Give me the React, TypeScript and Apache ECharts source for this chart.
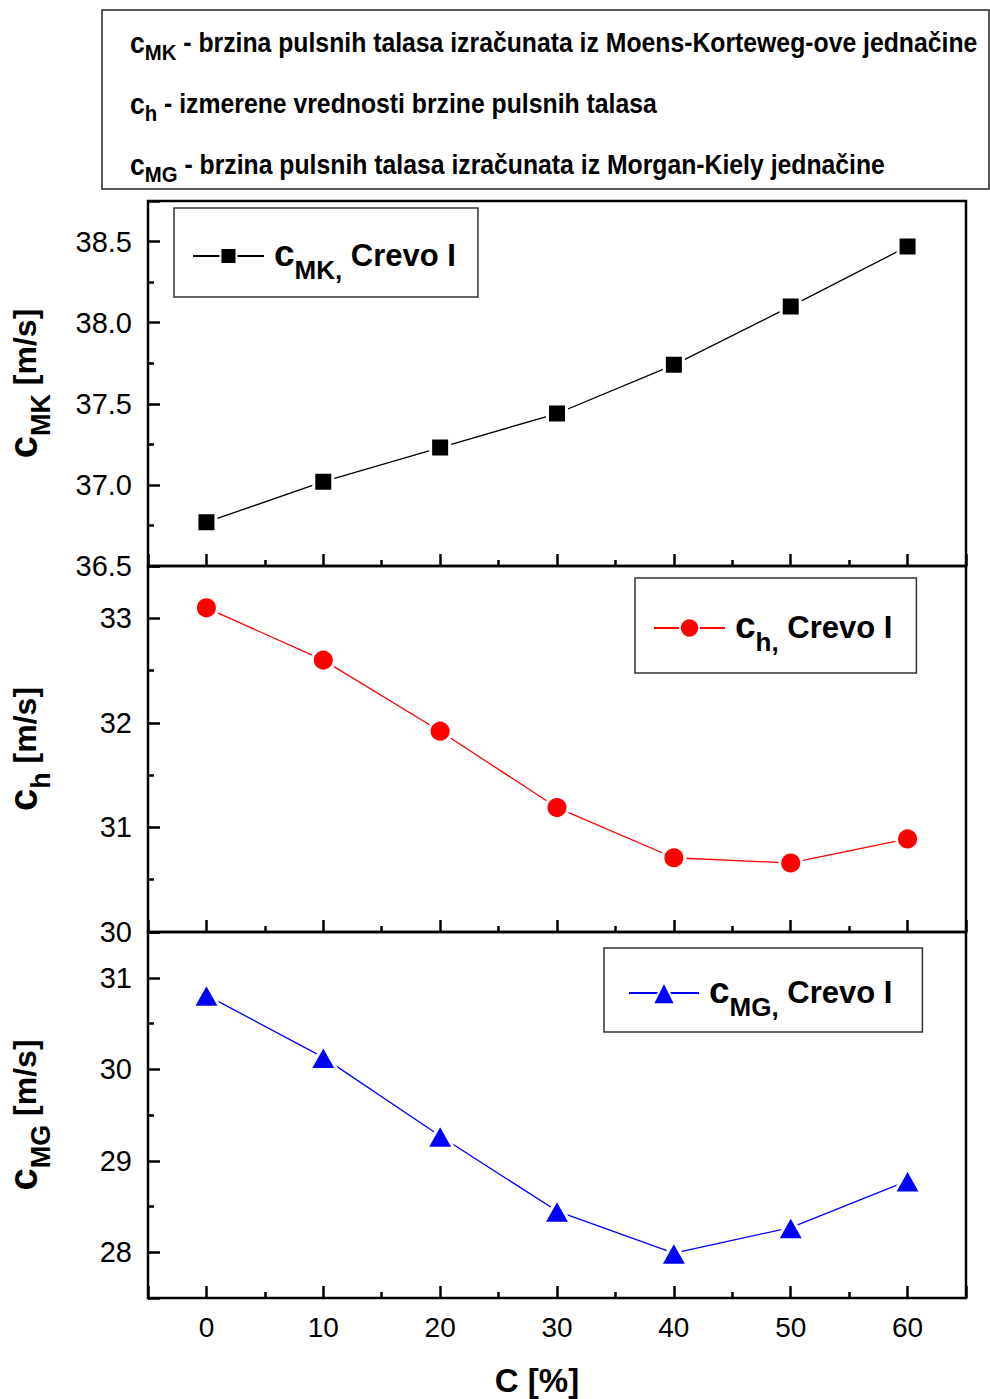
import React, { useEffect, useRef } from 'react';
import * as echarts from 'echarts';

// ---- data ----
const concentration = [0, 10, 20, 30, 40, 50, 60];
const cMKValues = [36.77, 37.02, 37.23, 37.44, 37.74, 38.1, 38.47];
const cHValues = [33.1, 32.6, 31.92, 31.19, 30.71, 30.66, 30.89];
const cMGValues = [30.81, 30.13, 29.27, 28.45, 27.99, 28.27, 28.78];

const seriesNames = ['cMK', 'ch', 'cMG'];
const seriesSubs = ['MK', 'h', 'MG'];
const legendSuffix = 'Crevo I';
const yUnit = '[m/s]';
const xTitle = 'C [%]';
const descriptionSubs = ['MK', 'h', 'MG'];
const descriptionTexts = [
  '- brzina pulsnih talasa izračunata iz Moens-Korteweg-ove jednačine',
  '- izmerene vrednosti brzine pulsnih talasa',
  '- brzina pulsnih talasa izračunata iz Morgan-Kiely jednačine',
];

const SANS = '"Liberation Sans", Arial, sans-serif';

const richSub = (mainSize: number, subSize: number, textSize: number, mainPad: number, subPad: number, textPad: number, leftPad = 0) => ({
  m: { fontFamily: SANS, fontWeight: 'bold', fontSize: mainSize, color: '#000', verticalAlign: 'top', padding: [mainPad, 0, 0, leftPad] },
  s: { fontFamily: SANS, fontWeight: 'bold', fontSize: subSize, color: '#000', verticalAlign: 'top', padding: [subPad, 0, 0, 0] },
  t: { fontFamily: SANS, fontWeight: 'bold', fontSize: textSize, color: '#000', verticalAlign: 'top', padding: [textPad, 0, 0, 0] },
});

export default function App() {
  const ref = useRef<HTMLDivElement>(null);
  useEffect(() => {
    if (!ref.current) return;
    const chart = echarts.init(ref.current, undefined, { renderer: 'svg' });

    const gridTops = [201, 566, 932];
    const gridHeights = [365, 366, 366];
    const grids = gridTops.map((t, i) => ({
      left: 148, top: t, width: 818, height: gridHeights[i],
      containLabel: false, outerBoundsMode: 'none',
      show: true, borderColor: '#000', borderWidth: 2.5, backgroundColor: 'transparent',
    }));

    const tickStyle = { color: '#000', width: 2.5 };
    const xAxes = [0, 1, 2].map((i) => ({
      type: 'value', gridIndex: i, min: -5, max: 65, minInterval: 10, maxInterval: 10, splitNumber: 7,
      axisLine: { show: false, onZero: false },
      axisTick: { show: true, inside: true, length: 12, lineStyle: tickStyle },
      minorTick: { show: true, splitNumber: 2, length: 6, lineStyle: tickStyle },
      splitLine: { show: false },
      axisLabel: { show: i === 2, showMinLabel: false, showMaxLabel: false, fontFamily: SANS, fontSize: 28, color: '#000', margin: 15 },
      name: i === 2 ? xTitle : '',
      nameLocation: 'middle', nameGap: 66,
      nameTextStyle: { fontFamily: SANS, fontWeight: 'bold', fontSize: 33, color: '#000', padding: [0, 40, 0, 0] },
    }));

    const yCommon = {
      type: 'value',
      axisLine: { show: false, onZero: false },
      axisTick: { show: true, inside: true, length: 12, lineStyle: tickStyle },
      minorTick: { show: true, splitNumber: 2, length: 6, lineStyle: tickStyle },
      splitLine: { show: false },
      nameLocation: 'middle', nameRotate: 90, nameGap: 94,
    };
    const yLabel = { fontFamily: SANS, fontSize: 29, color: '#000', margin: 16 };
    const yName = (i: number) => `{m|c}{s|${seriesSubs[i]}}{t| ${yUnit}}`;
    const yRich = richSub(40, 27, 32, 0, 24, 6);
    const yAxes = [
      { ...yCommon, gridIndex: 0, min: 36.5, max: 38.75, interval: 0.5,
        axisLabel: { ...yLabel, showMaxLabel: false, formatter: (v: number) => v.toFixed(1) },
        name: yName(0), nameTextStyle: { rich: yRich } },
      { ...yCommon, gridIndex: 1, min: 30, max: 33.5, interval: 1,
        axisLabel: { ...yLabel, showMaxLabel: false },
        name: yName(1), nameTextStyle: { rich: yRich } },
      { ...yCommon, gridIndex: 2, min: 27.5, max: 31.5, minInterval: 1, maxInterval: 1, splitNumber: 4,
        axisLabel: { ...yLabel, showMinLabel: false, showMaxLabel: false },
        name: yName(2), nameTextStyle: { rich: yRich } },
    ];

    const valuesList = [cMKValues, cHValues, cMGValues];
    const colors = ['#000000', '#ff0000', '#0000ff'];
    const symbols = ['rect', 'circle', 'triangle'];
    const symbolSizes: any[] = [19, 22, [27, 24]];
    const series = valuesList.map((vals, i) => ({
      name: seriesNames[i], type: 'line', xAxisIndex: i, yAxisIndex: i,
      data: concentration.map((x, k) => [x, vals[k]]),
      symbol: symbols[i], symbolSize: symbolSizes[i],
      color: colors[i],
      lineStyle: { color: colors[i], width: 1.3 },
      itemStyle: { color: colors[i], borderColor: '#fff', borderWidth: 3, borderJoin: 'round' },
      emphasis: { disabled: true },
      z: 3,
    }));

    const legendRich = richSub(37, 26, 31, 6, 28, 11, 5);
    const legendPos = [
      { left: 174, top: 208, padding: [27, 22, 14, 18], itemHeight: 20, itemWidth: 71 },
      { left: 635, top: 578, padding: [29, 24, 18, 18], itemHeight: 24, itemWidth: 71 },
      { left: 604, top: 948, padding: [24, 30, 12, 24], itemHeight: 28, itemWidth: 70 },
    ];
    const legends = legendPos.map((p, i) => ({
      data: [seriesNames[i]], orient: 'horizontal', selectedMode: false,
      left: p.left, top: p.top, padding: p.padding, itemWidth: p.itemWidth, itemHeight: p.itemHeight,
      borderColor: '#333', borderWidth: 1.5, backgroundColor: '#fff',
      formatter: () => `{m|c}{s|${seriesSubs[i]},}{t| ${legendSuffix}}`,
      textStyle: { rich: legendRich },
    }));

    const descRich = richSub(30, 23, 28, 0, 14, 1);
    const descTops = [27, 88, 149];
    const graphic: any[] = [
      { type: 'rect', shape: { x: 102, y: 10, width: 887, height: 179 }, style: { fill: 'none', stroke: '#222', lineWidth: 1.5 } },
      ...descriptionTexts.map((t, i) => ({
        type: 'text', x: 130, y: descTops[i], scaleX: 0.885,
        style: { text: `{m|c}{s|${descriptionSubs[i]}}{t| ${t}}`, rich: descRich, verticalAlign: 'top', align: 'left' },
      })),
    ];

    chart.setOption({
      animation: false,
      backgroundColor: '#fff',
      grid: grids,
      xAxis: xAxes,
      yAxis: yAxes,
      legend: legends,
      series,
      graphic,
    } as any);
    return () => chart.dispose();
  }, []);
  return <div ref={ref} style={{ position: 'absolute', left: 0, top: 0, width: 990, height: 1399 }} />;
}
